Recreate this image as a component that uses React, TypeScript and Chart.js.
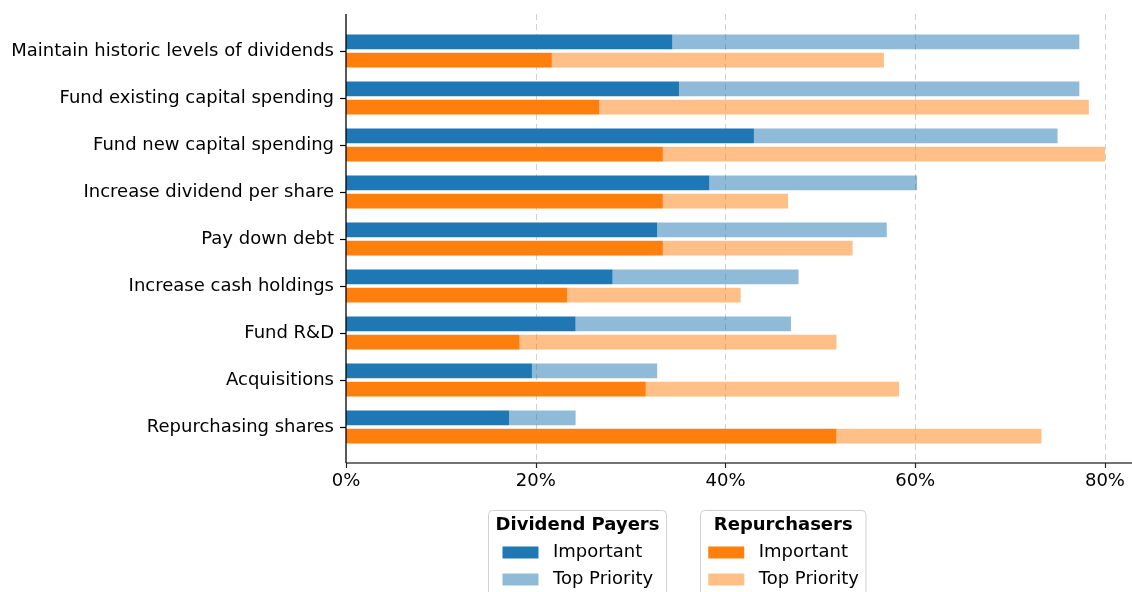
import React, { useEffect, useRef } from 'react';
import { Chart, registerables } from 'chart.js';

Chart.register(...registerables);

const categories = [
  'Maintain historic levels of dividends',
  'Fund existing capital spending',
  'Fund new capital spending',
  'Increase dividend per share',
  'Pay down debt',
  'Increase cash holdings',
  'Fund R&D',
  'Acquisitions',
  'Repurchasing shares',
];

// Percent of respondents: "Important" and total incl. "Top Priority"
const dividendImportant = [34.4, 35.1, 43.0, 38.3, 32.8, 28.1, 24.2, 19.6, 17.2];
const dividendTotal = [77.3, 77.3, 75.0, 60.2, 57.0, 47.7, 46.9, 32.8, 24.2];
const repurchaserImportant = [21.7, 26.7, 33.4, 33.4, 33.4, 23.3, 18.3, 31.6, 51.7];
const repurchaserTotal = [56.7, 78.3, 80.0, 46.6, 53.4, 41.6, 51.7, 58.3, 73.3];

const xTickValues = [0, 20, 40, 60, 80];

const BLUE = '#1f77b4';
const BLUE_LIGHT = 'rgba(31,119,180,0.5)';
const ORANGE = '#ff7f0e';
const ORANGE_LIGHT = 'rgba(255,127,14,0.5)';
const FONT = '"DejaVu Sans", sans-serif';

const AXIS_TOP = 14;
const AXIS_BOTTOM = 463;

const overlayPlugin = {
  id: 'overlayPlugin',
  beforeDatasetsDraw(chart: any) {
    const { ctx } = chart;
    const xs = chart.scales.x;
    ctx.save();
    ctx.strokeStyle = 'rgba(0,0,0,0.18)';
    ctx.lineWidth = 1;
    ctx.setLineDash([6, 4]);
    for (const t of xTickValues) {
      if (t === 0) continue;
      const px = Math.round(xs.getPixelForValue(t)) + 0.5;
      ctx.beginPath();
      ctx.moveTo(px, AXIS_TOP);
      ctx.lineTo(px, AXIS_BOTTOM);
      ctx.stroke();
    }
    ctx.restore();
  },
  afterDraw(chart: any) {
    const { ctx } = chart;
    const xs = chart.scales.x;
    const left = chart.chartArea.left;
    ctx.save();
    // bottom spine
    ctx.strokeStyle = '#444';
    ctx.lineWidth = 1.6;
    ctx.beginPath();
    ctx.moveTo(left, AXIS_BOTTOM);
    ctx.lineTo(chart.width, AXIS_BOTTOM);
    ctx.stroke();
    // x tick marks
    ctx.strokeStyle = '#222';
    ctx.lineWidth = 1.2;
    for (const t of xTickValues) {
      const px = Math.round(xs.getPixelForValue(t)) + 0.5;
      ctx.beginPath();
      ctx.moveTo(px, AXIS_BOTTOM);
      ctx.lineTo(px, AXIS_BOTTOM + 5);
      ctx.stroke();
    }
    // left spine
    ctx.strokeStyle = '#000';
    ctx.lineWidth = 1.3;
    ctx.beginPath();
    ctx.moveTo(left, AXIS_TOP);
    ctx.lineTo(left, AXIS_BOTTOM);
    ctx.stroke();

    // legends
    const boxes = [
      { x: 488.5, w: 178, title: 'Dividend Payers', c1: BLUE, c2: BLUE_LIGHT },
      { x: 700.5, w: 165.5, title: 'Repurchasers', c1: ORANGE, c2: ORANGE_LIGHT },
    ];
    for (const b of boxes) {
      const top = 510.5;
      const h = 120;
      const r = 4;
      const cx = b.x + b.w / 2;
      ctx.fillStyle = 'rgba(255,255,255,0.8)';
      ctx.strokeStyle = '#d0d0d0';
      ctx.lineWidth = 1;
      ctx.beginPath();
      ctx.moveTo(b.x + r, top);
      ctx.lineTo(b.x + b.w - r, top);
      ctx.arcTo(b.x + b.w, top, b.x + b.w, top + r, r);
      ctx.lineTo(b.x + b.w, top + h);
      ctx.lineTo(b.x, top + h);
      ctx.lineTo(b.x, top + r);
      ctx.arcTo(b.x, top, b.x + r, top, r);
      ctx.closePath();
      ctx.fill();
      ctx.stroke();

      ctx.fillStyle = '#000';
      ctx.font = 'bold 18px ' + FONT;
      ctx.textAlign = 'center';
      ctx.textBaseline = 'middle';
      ctx.fillText(b.title, cx, 525);

      ctx.font = '18px ' + FONT;
      ctx.textAlign = 'left';
      const items = [
        { label: 'Important', color: b.c1, y: 552.5 },
        { label: 'Top Priority', color: b.c2, y: 579.5 },
      ];
      for (const it of items) {
        ctx.fillStyle = it.color;
        ctx.fillRect(cx - 75, it.y - 6, 36, 12);
        ctx.fillStyle = '#000';
        ctx.fillText(it.label, cx - 24.5, it.y);
      }
    }
    ctx.restore();
  },
};

export default function App() {
  const canvasRef = useRef<HTMLCanvasElement | null>(null);

  useEffect(() => {
    document.body.style.margin = '0';
    const canvas = canvasRef.current;
    if (!canvas) return;

    const dividendTop = dividendTotal.map((v, i) => v - dividendImportant[i]);
    const repurchaserTop = repurchaserTotal.map((v, i) => v - repurchaserImportant[i]);

    const barCommon = {
      categoryPercentage: 0.78,
      barPercentage: 0.8,
      borderWidth: 0,
    };

    const chart = new Chart(canvas, {
      type: 'bar',
      data: {
        labels: categories,
        datasets: [
          { label: 'Important', data: dividendImportant, backgroundColor: BLUE, stack: 'div', ...barCommon },
          { label: 'Top Priority', data: dividendTop, backgroundColor: BLUE_LIGHT, stack: 'div', ...barCommon },
          { label: 'Important', data: repurchaserImportant, backgroundColor: ORANGE, stack: 'rep', ...barCommon },
          { label: 'Top Priority', data: repurchaserTop, backgroundColor: ORANGE_LIGHT, stack: 'rep', ...barCommon },
        ],
      },
      options: {
        indexAxis: 'y',
        responsive: false,
        animation: false,
        devicePixelRatio: 1,
        layout: { padding: { left: 0, right: 0, top: 27.5, bottom: 99.5 } },
        plugins: {
          legend: { display: false },
          tooltip: { enabled: false },
        },
        scales: {
          x: {
            type: 'linear',
            stacked: true,
            min: 0,
            max: 82.85,
            grid: { display: false, drawTicks: false },
            border: { display: false },
            afterBuildTicks: (scale: any) => {
              scale.ticks = xTickValues.map((v) => ({ value: v }));
            },
            afterFit: (scale: any) => {
              scale.height = 42;
              scale.paddingLeft = 0;
              scale.paddingRight = 0;
            },
            ticks: {
              color: '#000',
              padding: 20,
              font: { family: FONT, size: 18 },
              callback: (v: any) => v + '%',
              maxRotation: 0,
            },
          },
          y: {
            stacked: true,
            grid: {
              display: true,
              drawOnChartArea: false,
              drawTicks: true,
              tickLength: 6,
              tickColor: '#000',
              tickWidth: 1.2,
              offset: false,
            },
            border: { display: false },
            afterFit: (scale: any) => {
              scale.width = 346;
              scale.paddingTop = 0;
              scale.paddingBottom = 0;
            },
            ticks: {
              color: '#000',
              padding: 6,
              autoSkip: false,
              font: { family: FONT, size: 18 },
            },
          },
        },
      },
      plugins: [overlayPlugin],
    } as any);

    return () => chart.destroy();
  }, []);

  return (
    <canvas ref={canvasRef} width={1132} height={592} style={{ display: 'block', width: 1132, height: 592 }} />
  );
}
